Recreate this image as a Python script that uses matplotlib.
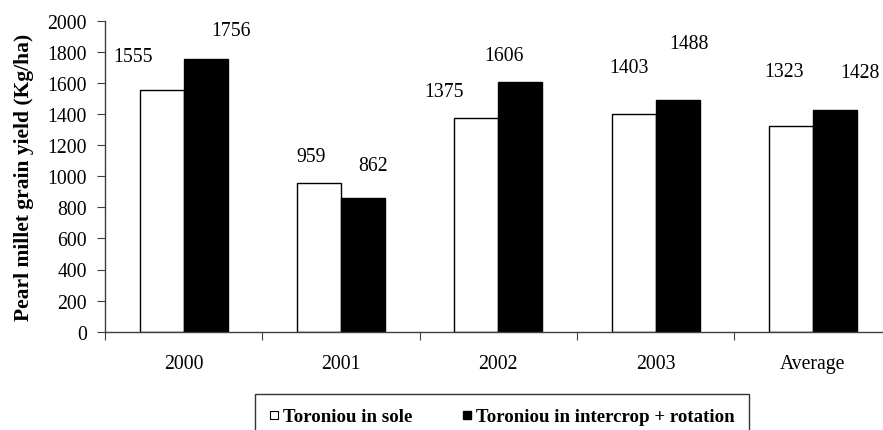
import matplotlib
matplotlib.use("Agg")
import matplotlib.pyplot as plt
from matplotlib.lines import Line2D
import numpy as np

plt.rcParams['font.family'] = ['Liberation Serif', 'DejaVu Serif']

categories = ["2000", "2001", "2002", "2003", "Average"]
sole = [1555, 959, 1375, 1403, 1323]
intercrop = [1756, 862, 1606, 1488, 1428]
series_names = ["Toroniou in sole", "Toroniou in intercrop + rotation"]
y_ticks = [0, 200, 400, 600, 800, 1000, 1200, 1400, 1600, 1800, 2000]

# label offsets in pixels (dx, dy) relative to bar top centre
sole_offsets = [(-29, 33), (-8, 26), (-32, 26), (-5, 46), (-7, 54)]
inter_offsets = [(25, 28), (10, 32), (-16, 26), (11, 57), (25, 37)]

W, H = 883, 431
fig = plt.figure(figsize=(W / 100, H / 100), dpi=100)
ax = fig.add_axes([105 / W, (H - 332.7) / H, 786.5 / W, 311 / H])

FS = 14.2

x = np.arange(len(categories))
bw = 0.28
ax.bar(x - bw / 2, sole, bw, color="white", edgecolor="black", linewidth=1.0)
ax.bar(x + bw / 2, intercrop, bw, color="black", edgecolor="black", linewidth=1.0)

for i in range(len(categories)):
    ax.annotate(str(sole[i]), xy=(x[i] - bw / 2, sole[i]), xytext=sole_offsets[i],
                textcoords="offset pixels", ha="center", va="center", fontsize=FS)
    ax.annotate(str(intercrop[i]), xy=(x[i] + bw / 2, intercrop[i]), xytext=inter_offsets[i],
                textcoords="offset pixels", ha="center", va="center", fontsize=FS)

ax.set_xlim(-0.5, len(categories) - 0.5)
ax.set_ylim(0, 2000)
ax.set_yticks(y_ticks)
ax.set_yticklabels([str(v) for v in y_ticks], fontsize=FS)
ax.set_xticks(np.arange(len(categories) + 1) - 0.5, minor=False)
ax.set_xticklabels([])
ax.set_xticks(x, minor=True)
ax.set_xticklabels(categories, minor=True, fontsize=FS)
ax.tick_params(axis="x", which="minor", length=0, pad=16)
ax.tick_params(axis="x", which="major", length=6, direction="out", color="#404040")
ax.tick_params(axis="y", length=6, direction="out", color="#404040", pad=7)
for s in ["top", "right"]:
    ax.spines[s].set_visible(False)
for s in ["left", "bottom"]:
    ax.spines[s].set_color("#404040")
    ax.spines[s].set_linewidth(1.0)

ax.set_ylabel("Pearl millet grain yield (Kg/ha)", fontsize=15.5, fontweight="bold", labelpad=10)

handles = [
    Line2D([], [], linestyle="none", marker="s", markersize=5.5, markerfacecolor="white",
           markeredgecolor="black", markeredgewidth=0.8),
    Line2D([], [], linestyle="none", marker="s", markersize=5.5, markerfacecolor="black",
           markeredgecolor="black"),
]
leg = fig.legend(handles, series_names, loc="upper left", bbox_to_anchor=(255 / W, (H - 395) / H),
                 ncol=2, frameon=True, fancybox=False, handlelength=0.5, handletextpad=0.25,
                 columnspacing=2.6, borderpad=0.75, borderaxespad=0,
                 prop={"weight": "bold", "size": 13.6})
leg.get_frame().set_edgecolor("black")
leg.get_frame().set_linewidth(1.0)

fig.savefig("out.png", dpi=100)
